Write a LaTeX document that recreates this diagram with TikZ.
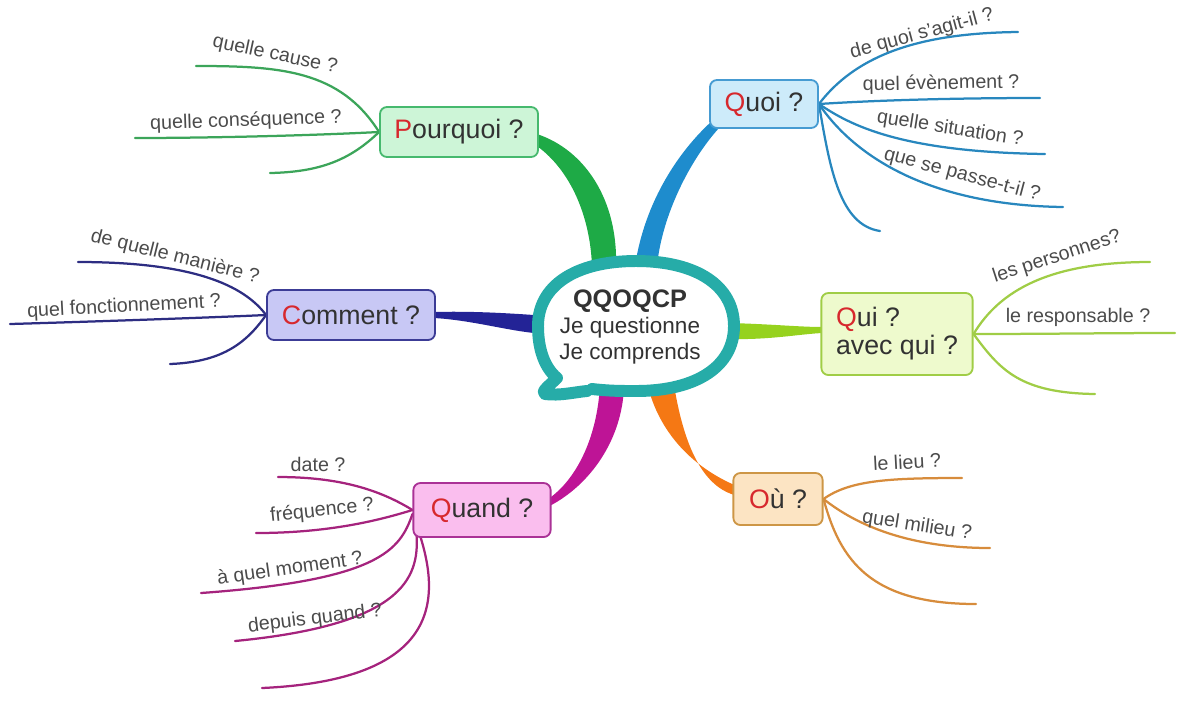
\documentclass[tikz,border=0pt]{standalone}
\usepackage{fontspec}
\setmainfont{Liberation Sans}
\usepackage{xcolor}
\usepackage{tikz}
\usetikzlibrary{shapes,positioning,calc,backgrounds}

\definecolor{bubbleteal}{RGB}{38,172,168}
\definecolor{initred}{RGB}{215,40,45}
\definecolor{txtgray}{RGB}{50,50,50}
\definecolor{lblgray}{RGB}{75,75,75}
\definecolor{pqfill}{RGB}{205,245,215}
\definecolor{pqline}{RGB}{70,185,110}
\definecolor{pqbranch}{RGB}{30,170,70}
\definecolor{pqleaf}{RGB}{60,165,90}
\definecolor{qofill}{RGB}{205,235,250}
\definecolor{qoline}{RGB}{70,155,210}
\definecolor{qobranch}{RGB}{30,140,205}
\definecolor{qoleaf}{RGB}{40,135,190}
\definecolor{cmfill}{RGB}{200,200,245}
\definecolor{cmline}{RGB}{60,60,150}
\definecolor{cmbranch}{RGB}{35,35,150}
\definecolor{cmleaf}{RGB}{45,45,130}
\definecolor{qifill}{RGB}{238,250,205}
\definecolor{qiline}{RGB}{160,205,70}
\definecolor{qibranch}{RGB}{150,210,30}
\definecolor{qileaf}{RGB}{160,205,70}
\definecolor{qdfill}{RGB}{250,190,238}
\definecolor{qdline}{RGB}{170,50,150}
\definecolor{qdbranch}{RGB}{190,20,150}
\definecolor{qdleaf}{RGB}{165,35,125}
\definecolor{oufill}{RGB}{252,228,195}
\definecolor{ouline}{RGB}{205,150,70}
\definecolor{oubranch}{RGB}{245,120,20}
\definecolor{ouleaf}{RGB}{215,140,60}

\tikzset{
  box/.style={draw, rounded corners=5pt, line width=1.3pt, text=txtgray, font=\fontsize{19}{22}\selectfont, inner sep=3pt},
  leaf/.style={line width=1.6pt, line cap=round},
  lbl/.style={text=lblgray, font=\fontsize{14}{16}\selectfont, inner sep=1pt},
  bubble/.style={draw=bubbleteal, line width=8.5pt, line cap=round, line join=round},
}

\begin{document}
\begin{tikzpicture}[x=0.025cm, y=-0.025cm]
    \useasboundingbox (0,0) rectangle (1200,700);

    \fill[white] (592,389) .. controls (610,391) and (620,391) .. (636,391) .. controls (697,391) and (734,366) .. (734,326) .. controls (734,286) and (697,261) .. (636,261) .. controls (575,261) and (538,286) .. (538,326) .. controls (538,350) and (545,368) .. (557,378) .. controls (550,385) and (540,392) .. (545,394) .. controls (560,396) and (575,392) .. (587,391) -- cycle;
    \draw[bubble] (592,389) .. controls (610,391) and (620,391) .. (636,391) .. controls (697,391) and (734,366) .. (734,326) .. controls (734,286) and (697,261) .. (636,261) .. controls (575,261) and (538,286) .. (538,326) .. controls (538,350) and (545,368) .. (557,378) .. controls (550,385) and (540,392) .. (545,394) .. controls (560,396) and (575,392) .. (587,391);
    \node[align=center, text=txtgray, font=\fontsize{16}{18.5}\selectfont] (ctr) at (630,327) {{\bfseries\fontsize{18}{18.5}\selectfont QQOQCP}\\Je questionne\\Je comprends};

    \node[box, fill=pqfill, draw=pqline, minimum width=3.95cm, minimum height=1.25cm] (pq) at (459,132) {\textcolor{initred}{P}ourquoi ?};
    \node[box, fill=qofill, draw=qoline, minimum width=2.7cm, minimum height=1.2cm] (qo) at (764,104) {\textcolor{initred}{Q}uoi ?};
    \node[box, fill=cmfill, draw=cmline, minimum width=4.2cm, minimum height=1.25cm] (cm) at (351,315) {\textcolor{initred}{C}omment ?};
    \node[box, fill=qifill, draw=qiline, minimum width=3.78cm, minimum height=2.05cm, align=left, font=\fontsize{19}{20}\selectfont] (qi) at (897,334) {\textcolor{initred}{Q}ui ?\\avec qui ?};
    \node[box, fill=qdfill, draw=qdline, minimum width=3.43cm, minimum height=1.35cm] (qd) at (482,510) {\textcolor{initred}{Q}uand ?};
    \node[box, fill=oufill, draw=ouline, minimum width=2.23cm, minimum height=1.3cm] (ou) at (778,499) {\textcolor{initred}{O}ù ?};

    \coordinate (pq1) at (196,66);
    \coordinate (pq2) at (135,138);
    \coordinate (pq3) at (270,173);
    \coordinate (qo1) at (1018,32);
    \coordinate (qo2) at (1040,98);
    \coordinate (qo3) at (1045,154);
    \coordinate (qo4) at (1063,207);
    \coordinate (qo5) at (880,231);
    \coordinate (cm1) at (78,262);
    \coordinate (cm2) at (10,324);
    \coordinate (cm3) at (170,364);
    \coordinate (qi1) at (1150,262);
    \coordinate (qi2) at (1175,333);
    \coordinate (qi3) at (1095,394);
    \coordinate (ou1) at (962,478);
    \coordinate (ou2) at (990,548);
    \coordinate (ou3) at (976,604);
    \coordinate (qd1) at (278,477);
    \coordinate (qd2) at (256,533);
    \coordinate (qd3) at (201,593);
    \coordinate (qd4) at (235,641);
    \coordinate (qd5) at (262,688);

    \node[lbl, rotate=-12] (pqt1) at (275,55) {quelle cause ?};
    \node[lbl, rotate=2] (pqt2) at (246,121) {quelle conséquence ?};
    \node[lbl, rotate=15] (qot1) at (922,34) {de quoi s'agit-il ?};
    \node[lbl, rotate=1] (qot2) at (941,84) {quel évènement ?};
    \node[lbl, rotate=-9] (qot3) at (950,129) {quelle situation ?};
    \node[lbl, rotate=-15] (qot4) at (962,175) {que se passe-t-il ?};
    \node[lbl, rotate=-14] (cmt1) at (175,257) {de quelle manière ?};
    \node[lbl, rotate=3] (cmt2) at (124,307) {quel fonctionnement ?};
    \node[lbl, rotate=18] (qit1) at (1057,257) {les personnes?};
    \node[lbl] (qit2) at (1078,317) {le responsable ?};
    \node[lbl, rotate=3] (out1) at (907,462) {le lieu ?};
    \node[lbl, rotate=-9] (out2) at (917,526) {quel milieu ?};
    \node[lbl] (qdt1) at (318,464) {date ?};
    \node[lbl, rotate=6] (qdt2) at (322,511) {fréquence ?};
    \node[lbl, rotate=8] (qdt3) at (290,569) {à quel moment ?};
    \node[lbl, rotate=7] (qdt4) at (315,619) {depuis quand ?};

    \begin{pgfonlayer}{background}
    \fill[pqbranch] ($(pq.east)+(-2,2)$) .. controls (585,150) and (618,200) .. ($(ctr)+(-14,-61)$) -- ($(ctr)+(-38,-61)$) .. controls (590,215) and (570,170) .. ($(pq.east)+(-2,14)$) -- cycle;
    \fill[qobranch] ($(qo.south west)+(3,-8)$) .. controls (680,150) and (645,200) .. ($(ctr)+(5,-61)$) -- ($(ctr)+(27,-61)$) .. controls (662,215) and (690,160) .. ($(qo.south west)+(10,-1)$) -- cycle;
    \fill[cmbranch] ($(cm.east)+(-2,-3)$) .. controls (470,311) and (505,313) .. ($(ctr)+(-96,-12)$) -- ($(ctr)+(-96,6)$) .. controls (505,330) and (470,320) .. ($(cm.east)+(-2,3)$) -- cycle;
    \fill[qibranch] ($(ctr)+(99,-4)$) .. controls (770,324) and (800,327) .. ($(qi.west)+(2,-7)$) -- ($(qi.west)+(2,-1)$) .. controls (800,334) and (770,340) .. ($(ctr)+(99,12)$) -- cycle;
    \fill[qdbranch] ($(ctr)+(-30,58)$) .. controls (597,440) and (575,480) .. ($(qd.east)+(-2,-12)$) -- ($(qd.east)+(-2,-4)$) .. controls (590,485) and (622,440) .. ($(ctr)+(-6,60)$) -- cycle;
    \fill[oubranch] ($(ctr)+(18,60)$) .. controls (662,440) and (700,470) .. ($(ou.west)+(2,-14)$) -- ($(ou.west)+(2,-4)$) .. controls (700,485) and (683,440) .. ($(ctr)+(44,58)$) -- cycle;

    \draw[leaf, pqleaf] (pq.west) .. controls (340,70) and (280,66) .. (pq1);
    \draw[leaf, pqleaf] (pq.west) .. controls (300,136) and (200,138) .. (pq2);
    \draw[leaf, pqleaf] (pq.west) .. controls (350,160) and (320,172) .. (pq3);

    \draw[leaf, qoleaf] (qo.east) .. controls (860,50) and (930,33) .. (qo1);
    \draw[leaf, qoleaf] (qo.east) .. controls (880,100) and (960,98) .. (qo2);
    \draw[leaf, qoleaf] (qo.east) .. controls (850,125) and (900,152) .. (qo3);
    \draw[leaf, qoleaf] (qo.east) .. controls (850,150) and (920,205) .. (qo4);
    \draw[leaf, qoleaf] (qo.east) .. controls (830,170) and (840,225) .. (qo5);

    \draw[leaf, cmleaf] (cm.west) .. controls (240,280) and (180,262) .. (cm1);
    \draw[leaf, cmleaf] (cm.west) .. controls (200,318) and (80,322) .. (cm2);
    \draw[leaf, cmleaf] (cm.west) .. controls (245,345) and (220,362) .. (cm3);

    \draw[leaf, qileaf] (qi.east) .. controls (1000,290) and (1050,262) .. (qi1);
    \draw[leaf, qileaf] (qi.east) .. controls (1040,334) and (1110,333) .. (qi2);
    \draw[leaf, qileaf] (qi.east) .. controls (1000,370) and (1020,393) .. (qi3);

    \draw[leaf, ouleaf] (ou.east) .. controls (850,480) and (890,478) .. (ou1);
    \draw[leaf, ouleaf] (ou.east) .. controls (850,520) and (900,548) .. (ou2);
    \draw[leaf, ouleaf] (ou.east) .. controls (840,560) and (870,604) .. (ou3);

    \draw[leaf, qdleaf] (qd.west) .. controls (380,490) and (340,477) .. (qd1);
    \draw[leaf, qdleaf] (qd.west) .. controls (380,520) and (330,533) .. (qd2);
    \draw[leaf, qdleaf] ($(qd.west)+(0,4)$) .. controls (400,550) and (380,580) .. (qd3);
    \draw[leaf, qdleaf] ($(qd.south west)+(4,-4)$) .. controls (420,580) and (400,625) .. (qd4);
    \draw[leaf, qdleaf] ($(qd.south west)+(8,-1)$) .. controls (440,600) and (440,680) .. (qd5);
    \end{pgfonlayer}
\end{tikzpicture}
\end{document}
